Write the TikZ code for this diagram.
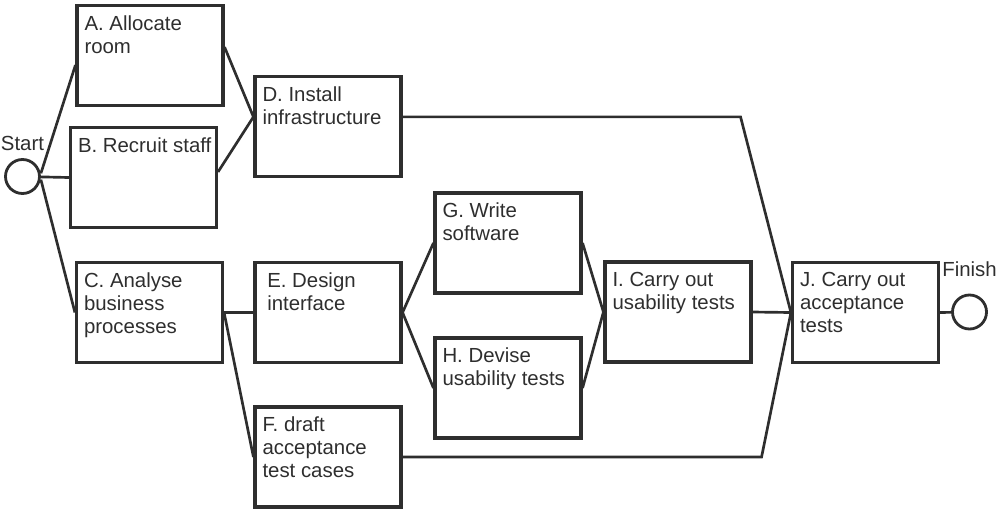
\documentclass[tikz,border=0pt]{standalone}
\usepackage{fontspec}
\setmainfont{Liberation Sans}
\usetikzlibrary{positioning, calc}
\usepackage{xcolor}
\definecolor{ink}{HTML}{2E2E2E}
\tikzset{
  task/.style={draw=ink, line width=2.2pt, minimum width=3.65cm, minimum height=2.5cm, inner sep=0pt},
  tasktext/.style={anchor=north west, align=left, inner xsep=0.22cm, inner ysep=0.28cm, text=ink,
    font=\fontsize{14.5}{16.4}\selectfont},
  event/.style={circle, draw=ink, line width=2pt, minimum size=0.85cm, inner sep=0pt},
  eventname/.style={text=ink, inner sep=0pt, font=\fontsize{14.5}{16.4}\selectfont},
  link/.style={draw=ink, line width=1.9pt},
}

\begin{document}
\begin{tikzpicture}[x=0.025cm, y=-0.025cm]
  \useasboundingbox (0,0) rectangle (1000,515);
  % start and finish events
  \node[event] (start) at (22.5,176.5) {};
  \node[eventname] (startname) at (22.5,143.5) {Start};
  \node[event] (finish) at (969.5,312) {};
  \node[eventname] (finishname) at (969.5,269.5) {Finish};
  % activities
  \node[task, label={[tasktext]north west:{A. Allocate\\room}}] (A) at (150,55.5) {};
  \node[task, label={[tasktext]north west:{B. Recruit staff}}] (B) at (143.5,177.5) {};
  \node[task, label={[tasktext]north west:{C. Analyse\\business\\processes}}] (C) at (149.5,312.5) {};
  \node[task, label={[tasktext]north west:{D. Install\\infrastructure}}] (D) at (328,126.5) {};
  \node[task, label={[tasktext, xshift=0.12cm]north west:{E. Design\\interface}}] (E) at (328,312.5) {};
  \node[task, label={[tasktext]north west:{F. draft\\acceptance\\test cases}}] (F) at (328,457) {};
  \node[task, label={[tasktext]north west:{G. Write\\software}}] (G) at (508,243) {};
  \node[task, label={[tasktext]north west:{H. Devise\\usability tests}}] (H) at (508,388) {};
  \node[task, label={[tasktext]north west:{I. Carry out\\usability tests}}] (I) at (678,312) {};
  \node[task, label={[tasktext]north west:{J. Carry out\\acceptance\\tests}}] (J) at (865.5,312.5) {};
  % dependencies
  \draw[link] ([yshift=0.08cm]start.east) -- ([yshift=-0.24cm]A.west);
  \draw[link] (start) -- (B.west);
  \draw[link] ([yshift=-0.08cm]start.east) -- (C.west);
  \draw[link] ([yshift=0.21cm]A.east) -- ([yshift=0.24cm]D.west);
  \draw[link] ([yshift=0.14cm]B.east) -- ([yshift=0.24cm]D.west);
  \draw[link] (C.east) -- (E.west);
  \draw[link] (C.east) -- (F.west);
  \draw[link] (E.east) -- (G.west);
  \draw[link] (E.east) -- (H.west);
  \draw[link] (G.east) -- (I.west);
  \draw[link] (H.east) -- (I.west);
  \draw[link] (I.east) -- (J.west);
  \draw[link] ([yshift=0.24cm]D.east) -- ++(338,0) -- (J.west);
  \draw[link] (F.east) -- ++(359,0) -- (J.west);
  \draw[link] (J.east) -- (finish);
\end{tikzpicture}
\end{document}
